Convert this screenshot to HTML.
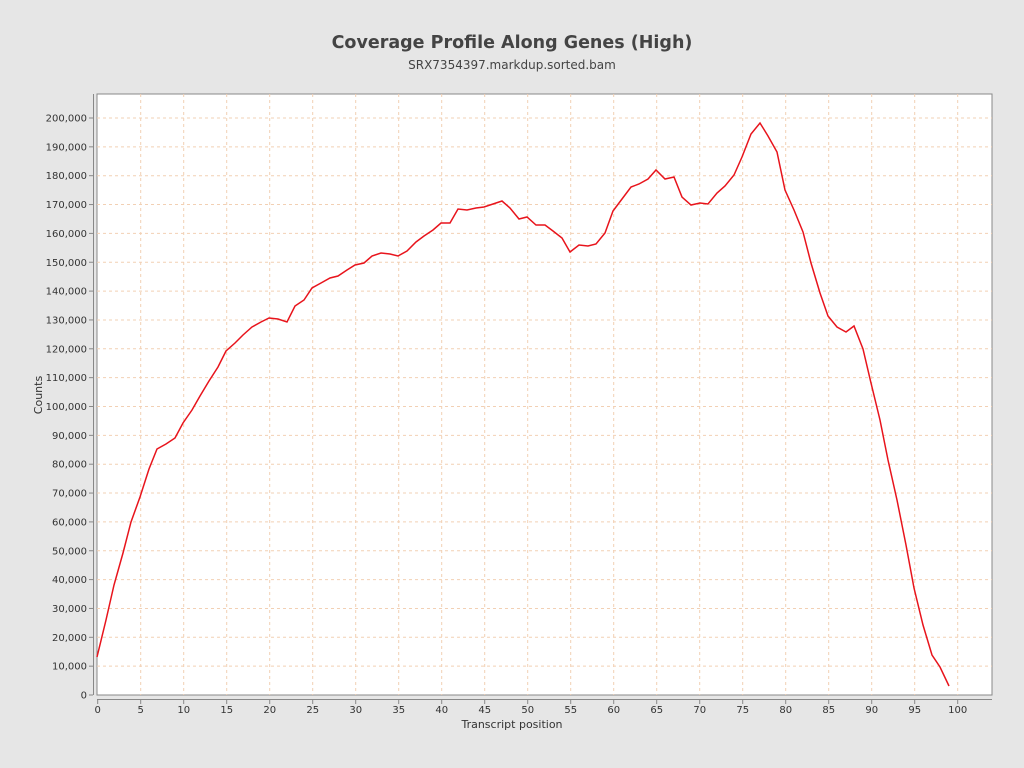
<!DOCTYPE html>
<html><head><meta charset="utf-8"><style>
html,body{margin:0;padding:0;overflow:hidden;width:1024px;height:768px;background:#e6e6e6;font-family:"Liberation Sans","DejaVu Sans",sans-serif}
svg{display:block}
</style></head><body>
<svg width="1024" height="768" xmlns="http://www.w3.org/2000/svg" font-family="DejaVu Sans, Liberation Sans, sans-serif">
<rect width="1024" height="768" fill="#e6e6e6"/>
<text x="512" y="48" text-anchor="middle" font-size="17.5" font-weight="bold" fill="#444">Coverage Profile Along Genes (High)</text>
<text x="512" y="69" text-anchor="middle" font-size="12" fill="#444">SRX7354397.markdup.sorted.bam</text>
<rect x="97" y="94" width="895" height="601" fill="#fff" stroke="#888" stroke-width="1"/>
<g stroke="#f2d0b4" stroke-dasharray="3,3" stroke-width="1" id="grid"></g>
<g id="ax" font-size="10" fill="#333"></g>
<line x1="93.5" y1="94" x2="93.5" y2="695" stroke="#888"/>
<line x1="97" y1="699.5" x2="992" y2="699.5" stroke="#888"/>
<text x="512" y="728" text-anchor="middle" font-size="11" fill="#333">Transcript position</text>
<text x="42" y="395" text-anchor="middle" font-size="11" fill="#333" transform="rotate(-90 42 395)">Counts</text>
<polyline fill="none" stroke="#e8141c" stroke-width="1.5" points="97,657 106,620 114,585 123,553 131,522 140,497 149,469 157,449 166,444 175,438 183,423 192,410 200,396 209,381 218,367 226,351 235,343 243,335 252,327 261,322 269,318 278,319 287,322 295,306 304,300 312,288 321,283 330,278 338,276 347,270 355,265 364,263 372,256 381,253 390,254 398,256 407,251 416,242 424,236 433,230 441,223 450,223 458,209 467,210 476,208 484,207 493,204 502,201 510,208 519,219 527,217 536,225 545,225 553,231 562,238 570,252 579,245 588,246 596,244 605,233 613,211 622,199 631,187 639,184 648,179 656,170 665,179 674,177 682,197 691,205 700,203 708,204 717,193 725,186 734,175 742,157 751,134 760,123 768,136 777,152 785,190 794,210 803,232 811,263 820,293 828,316 837,327 846,332 854,326 863,349 871,383 880,420 888,460 897,500 906,545 914,588 923,625 932,655 940,667 949,686"/>
</svg>
<script>
const g=document.getElementById('grid'),ax=document.getElementById('ax'),ns='http://www.w3.org/2000/svg';
function el(p,t,a,txt){const e=document.createElementNS(ns,t);for(const k in a)e.setAttribute(k,a[k]);if(txt!=null)e.textContent=txt;p.appendChild(e);}
for(let i=0;i<=20;i++){const y=695-i*28.85;if(i>0)el(g,'line',{x1:97,x2:992,y1:y,y2:y});
el(ax,'line',{x1:89,x2:93,y1:y,y2:y,stroke:'#888'});
el(ax,'text',{x:87,y:y+3.5,'text-anchor':'end'},(i*10000).toLocaleString('en-US'));}
for(let i=0;i<=20;i++){const x=97.7+i*43;if(i>0)el(g,'line',{x1:x,x2:x,y1:94,y2:695});
el(ax,'line',{x1:x,x2:x,y1:700,y2:704,stroke:'#888'});
el(ax,'text',{x:x,y:713,'text-anchor':'middle'},String(i*5));}
</script>
</body></html>
